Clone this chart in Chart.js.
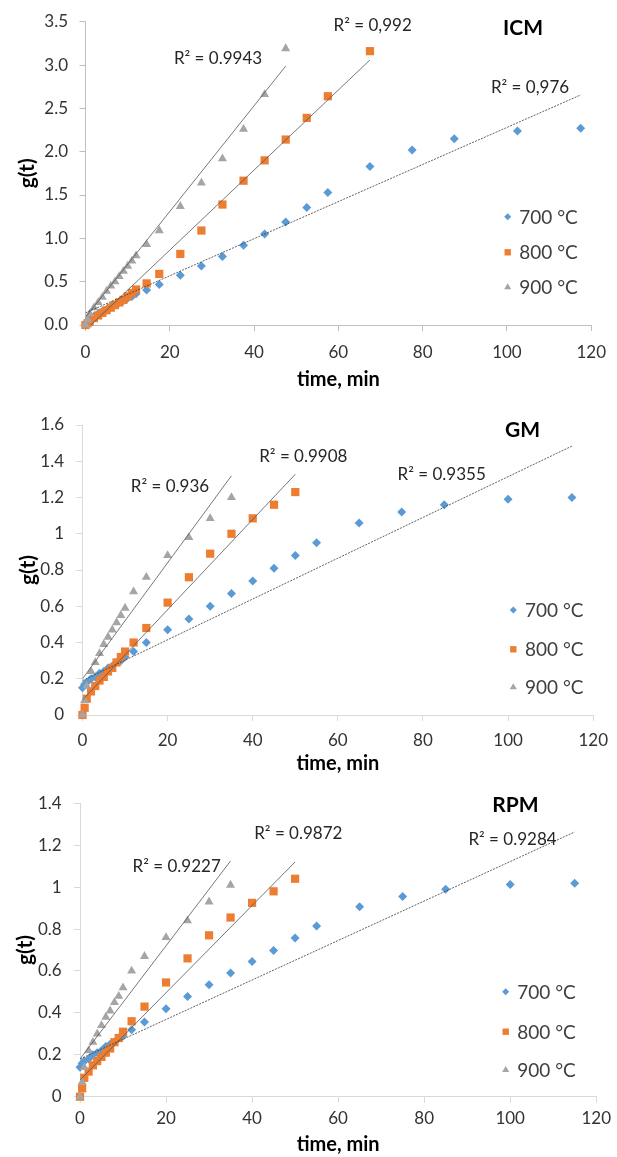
<!DOCTYPE html>
<html><head><meta charset="utf-8">
<script src="https://cdn.jsdelivr.net/npm/chart.js@4.4.0/dist/chart.umd.min.js"></script>
<style>
html,body{margin:0;padding:0;background:#fff;}
body{width:617px;height:1157px;position:relative;overflow:hidden;}
canvas{position:absolute;left:0;}
</style></head><body>
<canvas id="c1" width="617" height="395" style="top:0px"></canvas>
<canvas id="c2" width="617" height="380" style="top:395px"></canvas>
<canvas id="c3" width="617" height="382" style="top:775px"></canvas>
<script>
// ---------- data ----------
const seriesLabels = ['700 °C', '800 °C', '900 °C'];
const xTicks = [0, 20, 40, 60, 80, 100, 120];

// ICM
const icmTime = [0,0.5,1,2,3,4,5,6,7,8,9,10,11,12,14.5,17.5,22.5,27.5,32.5,37.5,42.5,47.5,52.5,57.5,67.5,77.5,87.5,102.5,117.5];
const icm700 = [0,0.04,0.07,0.10,0.13,0.16,0.18,0.21,0.23,0.26,0.28,0.31,0.33,0.36,0.405,0.467,0.574,0.68,0.79,0.92,1.05,1.19,1.355,1.53,1.83,2.02,2.15,2.24,2.27];
const icm800 = [0,0.02,0.04,0.08,0.11,0.14,0.17,0.20,0.23,0.26,0.29,0.33,0.37,0.41,0.48,0.59,0.82,1.09,1.39,1.665,1.90,2.14,2.39,2.64,3.16];
const icm900 = [0,0.06,0.13,0.20,0.26,0.32,0.39,0.45,0.50,0.56,0.62,0.68,0.74,0.80,0.93,1.09,1.37,1.64,1.92,2.26,2.66,3.19];
const icmSlope = [0.0214, 0.0462, 0.061];
const icmIntercept = [0.14, -0.06, 0.09];
const icmR2 = ['R² = 0,976', 'R² = 0,992', 'R² = 0.9943'];
const icmYTicks = [0,0.5,1,1.5,2,2.5,3,3.5];

// GM
const gmTime = [0,0.5,1,2,3,4,5,6,7,8,9,10,12,15,20,25,30,35,40,45,50,55,65,75,85,100,115];
const gm700 = [0.15,0.17,0.18,0.20,0.21,0.23,0.24,0.26,0.27,0.29,0.30,0.32,0.35,0.40,0.47,0.53,0.60,0.67,0.74,0.81,0.88,0.95,1.06,1.12,1.16,1.19,1.20];
const gm800 = [0,0.04,0.09,0.13,0.16,0.19,0.21,0.24,0.26,0.29,0.32,0.35,0.40,0.48,0.62,0.76,0.89,1.00,1.085,1.16,1.23];
const gm900 = [0,0.08,0.16,0.24,0.29,0.34,0.39,0.43,0.47,0.51,0.55,0.59,0.68,0.76,0.88,0.98,1.085,1.20];
const gmSlope = [0.01125, 0.0249, 0.032];
const gmIntercept = [0.19, 0.083, 0.20];
const gmR2 = ['R² = 0.9355', 'R² = 0.9908', 'R² = 0.936'];
const gmYTicks = [0,0.2,0.4,0.6,0.8,1,1.2,1.4,1.6];

// RPM
const rpmTime = [0,0.5,1,2,3,4,5,6,7,8,9,10,12,15,20,25,30,35,40,45,50,55,65,75,85,100,115];
const rpm700 = [0.14,0.16,0.17,0.18,0.20,0.21,0.22,0.24,0.25,0.26,0.28,0.29,0.32,0.357,0.42,0.478,0.534,0.59,0.645,0.698,0.757,0.815,0.906,0.955,0.99,1.012,1.019];
const rpm800 = [0,0.04,0.09,0.12,0.15,0.17,0.19,0.21,0.23,0.26,0.28,0.31,0.36,0.43,0.545,0.66,0.77,0.855,0.925,0.98,1.04];
const rpm900 = [0,0.07,0.14,0.22,0.26,0.30,0.34,0.38,0.41,0.45,0.48,0.52,0.60,0.67,0.76,0.84,0.93,1.01];
const rpmSlope = [0.00942, 0.0208, 0.027];
const rpmIntercept = [0.18, 0.08, 0.18];
const rpmR2 = ['R² = 0.9284', 'R² = 0.9872', 'R² = 0.9227'];
const rpmYTicks = [0,0.2,0.4,0.6,0.8,1,1.2,1.4];

// ---------- styles ----------
const F = 'Lato, "Open Sans", sans-serif';
const colors = ['#5B9BD5', '#ED7D31', '#A5A5A5'];
const styles = ['rectRot', 'rect', 'triangle'];
const radii = [4.5, 5.8, 5.2];
const legRadii = [3.5, 4.5, 4.1];

function drawMark(ctx, style, x, y, r, color) {
  ctx.fillStyle = color; ctx.beginPath();
  if (style === 'rectRot') { ctx.moveTo(x - r, y); ctx.lineTo(x, y - r); ctx.lineTo(x + r, y); ctx.lineTo(x, y + r); }
  else if (style === 'rect') { const s = r * Math.SQRT1_2; ctx.rect(x - s, y - s, 2 * s, 2 * s); }
  else { ctx.moveTo(x, y - r); ctx.lineTo(x + r * 0.866, y + r * 0.5); ctx.lineTo(x - r * 0.866, y + r * 0.5); }
  ctx.closePath(); ctx.fill();
}

const overlay = {
  id: 'overlay',
  afterDraw(chart, args, o) {
    const ctx = chart.ctx;
    ctx.save();
    ctx.textAlign = 'center'; ctx.textBaseline = 'middle';
    (o.texts || []).forEach(t => {
      ctx.font = t.font; ctx.fillStyle = t.color || '#262626';
      ctx.fillText(t.text, t.x, t.y);
    });
    const lg = o.legend;
    let k = 0;
    chart.data.datasets.forEach(ds => {
      if (!ds.isSeries) return;
      const y = lg.ys[k];
      drawMark(ctx, ds.pointStyle, lg.markX, y, legRadii[ds.sIndex], ds.backgroundColor);
      ctx.textAlign = 'left'; ctx.font = '19px ' + F; ctx.fillStyle = '#404040';
      ctx.fillText(ds.label, lg.textX, y + 1);
      k++;
    });
    ctx.restore();
  }
};

function makeChart(id, g, times, series, slopes, intercepts, r2, yTicks, yFmt, texts, legend) {
  const datasets = [];
  series.forEach((vals, i) => {
    datasets.push({
      label: seriesLabels[i], isSeries: true, sIndex: i,
      data: vals.map((v, j) => ({ x: times[j], y: v })),
      pointStyle: styles[i], pointRadius: radii[i], pointBorderWidth: 0,
      backgroundColor: colors[i], borderColor: colors[i],
      showLine: false, clip: false, order: 3 - i
    });
  });
  series.forEach((vals, i) => {
    const xEnd = times[vals.length - 1];
    datasets.push({
      label: r2[i], isSeries: false,
      data: [{ x: 0, y: intercepts[i] }, { x: xEnd, y: intercepts[i] + slopes[i] * xEnd }],
      showLine: true, pointRadius: 0, borderWidth: 0.8,
      borderColor: i === 0 ? '#3a3a3a' : '#555555',
      borderDash: i === 0 ? [2, 1.2] : [],
      clip: 0, order: 0
    });
  });
  const axisColor = g.axisColor;
  return new Chart(document.getElementById(id), {
    type: 'scatter',
    data: { datasets },
    plugins: [overlay],
    options: {
      responsive: false, animation: false, events: [],
      layout: { padding: { top: g.T, right: 617 - g.R, left: 0, bottom: 0 } },
      plugins: {
        legend: { display: false }, tooltip: { enabled: false },
        overlay: { texts, legend }
      },
      scales: {
        x: {
          type: 'linear', min: 0, max: 120,
          afterBuildTicks: s => { s.ticks = xTicks.map(v => ({ value: v })); },
          afterFit: s => { s.height = g.H - g.B; },
          ticks: { font: { family: F, size: 17 }, color: '#333333', padding: g.xPad, maxRotation: 0 },
          grid: { display: true, drawOnChartArea: false, drawTicks: true, tickLength: 6, color: axisColor },
          border: { display: true, color: axisColor, width: 1 },
          title: { display: true, text: 'time, min', color: '#000000',
                   font: { family: F, size: 20, weight: 'bold' },
                   padding: { top: 0, bottom: g.H - g.titleY - 12 } }
        },
        y: {
          type: 'linear', min: yTicks[0], max: yTicks[yTicks.length - 1],
          afterBuildTicks: s => { s.ticks = yTicks.map(v => ({ value: v })); },
          afterFit: s => { s.width = g.L; },
          ticks: { font: { family: F, size: 17 }, color: '#333333', padding: g.yPad, callback: yFmt },
          grid: { display: true, drawOnChartArea: false, drawTicks: true, tickLength: 6, color: axisColor },
          border: { display: true, color: axisColor, width: 1 },
          title: { display: true, text: 'g(t)', color: '#000000',
                   font: { family: F, size: 21, weight: 'bold' },
                   padding: { top: g.yTitleX - 12.6, bottom: 0 } }
        }
      }
    }
  });
}

const r2Font = '17px ' + F;
const headFont = 'bold 21px ' + F;
const fmt1 = v => Number(v).toFixed(1);
const fmtS = v => String(Math.round(v * 10) / 10);

makeChart('c1',
  { H: 395, L: 85.5, R: 592, T: 20.5, B: 325, xPad: 11, yPad: 11.5, titleY: 380, yTitleX: 27, axisColor: '#BFBFBF' },
  icmTime, [icm700, icm800, icm900], icmSlope, icmIntercept, icmR2, icmYTicks, fmt1,
  [
    { text: 'ICM', x: 523, y: 28.3, font: headFont, color: '#000' },
    { text: icmR2[2], x: 218, y: 59, font: r2Font },
    { text: icmR2[1], x: 372.7, y: 26, font: r2Font },
    { text: icmR2[0], x: 530, y: 87.3, font: r2Font }
  ],
  { markX: 507.7, textX: 519.3, ys: [216.7, 252.3, 287.3] });

makeChart('c2',
  { H: 380, L: 82.5, R: 600, T: 30, B: 320, xPad: 9, yPad: 12.5, titleY: 369, yTitleX: 28, axisColor: '#D9D9D9' },
  gmTime, [gm700, gm800, gm900], gmSlope, gmIntercept, gmR2, gmYTicks, fmtS,
  [
    { text: 'GM', x: 522.5, y: 35, font: headFont, color: '#000' },
    { text: gmR2[2], x: 170, y: 91.7, font: r2Font },
    { text: gmR2[1], x: 303.3, y: 61.7, font: r2Font },
    { text: gmR2[0], x: 441.7, y: 80, font: r2Font }
  ],
  { markX: 513.3, textX: 525, ys: [215, 254.3, 292.3] });

makeChart('c3',
  { H: 382, L: 80, R: 601.5, T: 28.3, B: 321.7, xPad: 6, yPad: 12.3, titleY: 370, yTitleX: 25, axisColor: '#D9D9D9' },
  rpmTime, [rpm700, rpm800, rpm900], rpmSlope, rpmIntercept, rpmR2, rpmYTicks, fmtS,
  [
    { text: 'RPM', x: 515.5, y: 30, font: headFont, color: '#000' },
    { text: rpmR2[2], x: 176.7, y: 91.7, font: r2Font },
    { text: rpmR2[1], x: 298.3, y: 59, font: r2Font },
    { text: rpmR2[0], x: 512.5, y: 65, font: r2Font }
  ],
  { markX: 505.7, textX: 517.3, ys: [216.7, 256.7, 295] });
</script>
</body></html>
